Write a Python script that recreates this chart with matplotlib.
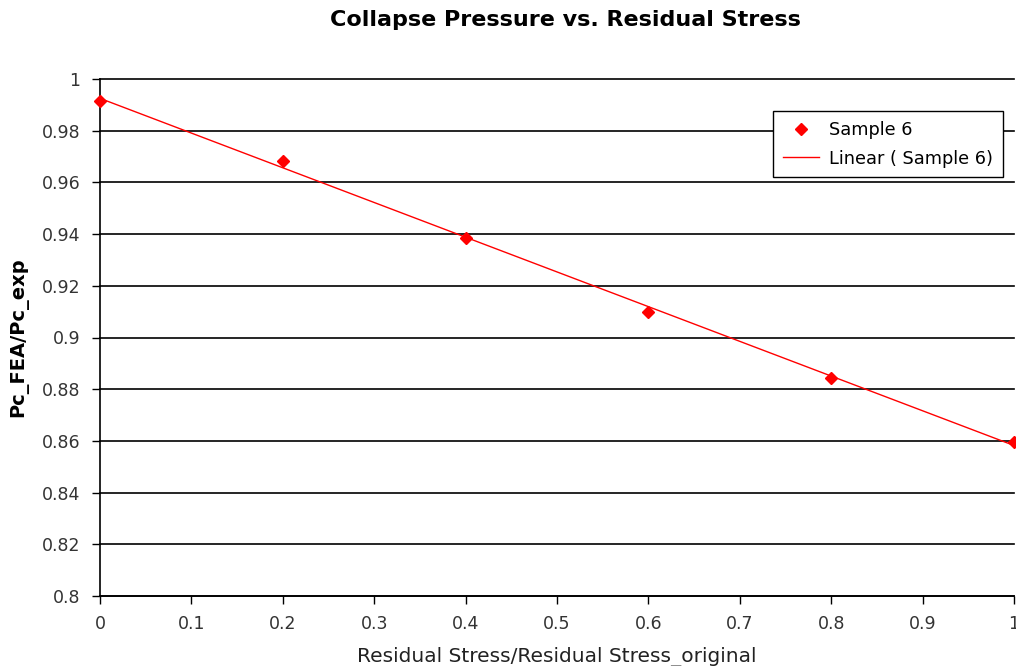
import numpy as np
import matplotlib
matplotlib.use('Agg')
import matplotlib.pyplot as plt

# Data
x_ratio = [0.0, 0.2, 0.4, 0.6, 0.8, 1.0]
pc_ratio = [0.9915, 0.9683, 0.9385, 0.910, 0.8843, 0.8596]
x_ticks = [0, 0.1, 0.2, 0.3, 0.4, 0.5, 0.6, 0.7, 0.8, 0.9, 1]
y_ticks = [0.8, 0.82, 0.84, 0.86, 0.88, 0.9, 0.92, 0.94, 0.96, 0.98, 1]

plt.rcParams['font.family'] = ['DejaVu Sans']

fig = plt.figure(figsize=(10.16, 6.66), dpi=100)
ax = fig.add_axes([100 / 1016, 70 / 666, 914 / 1016, 517 / 666])

# Linear trend line
slope, icpt = np.polyfit(x_ratio, pc_ratio, 1)
xs = np.array([0.0, 1.0])
ax.plot(xs, slope * xs + icpt, color='red', lw=1, label='Linear ( Sample 6)', zorder=3)
ax.plot(x_ratio, pc_ratio, linestyle='none', marker='D', color='red', ms=6,
        label='Sample 6', zorder=4, clip_on=False)

ax.set_xlim(0, 1)
ax.set_ylim(0.8, 1)
ax.set_xticks(x_ticks)
ax.set_xticklabels([f'{v:g}' for v in x_ticks])
ax.set_yticks(y_ticks)
ax.set_yticklabels([f'{v:g}' for v in y_ticks])
ax.grid(axis='y', color='black', lw=1.2)
for gl in ax.get_ygridlines():
    gl.set_clip_on(False)
ax.set_axisbelow(True)

for s in ['top', 'right']:
    ax.spines[s].set_visible(False)
for s in ['left', 'bottom']:
    ax.spines[s].set_linewidth(1.2)
ax.tick_params(axis='both', direction='out', length=6, width=1, labelsize=12.5,
               colors='black', labelcolor='#333333', pad=8)

ax.set_xlabel('Residual Stress/Residual Stress_original', fontsize=14.5, labelpad=10,
              color='#222222')
ax.set_ylabel('Pc_FEA/Pc_exp', fontsize=14, fontweight='bold', labelpad=10)
fig.text(565 / 1016, 1 - 20 / 666, 'Collapse Pressure vs. Residual Stress',
         ha='center', va='center', fontsize=16, fontweight='bold')

handles, labels = ax.get_legend_handles_labels()
leg = ax.legend(handles[::-1], labels[::-1], loc='upper left',
                bbox_to_anchor=(0.727, 0.955), fontsize=12.8, frameon=True,
                fancybox=False, edgecolor='black', framealpha=1,
                handlelength=2.0, handletextpad=0.6, borderpad=0.55,
                labelspacing=0.6)
leg.get_frame().set_linewidth(1)

fig.savefig('out.png', dpi=100)
